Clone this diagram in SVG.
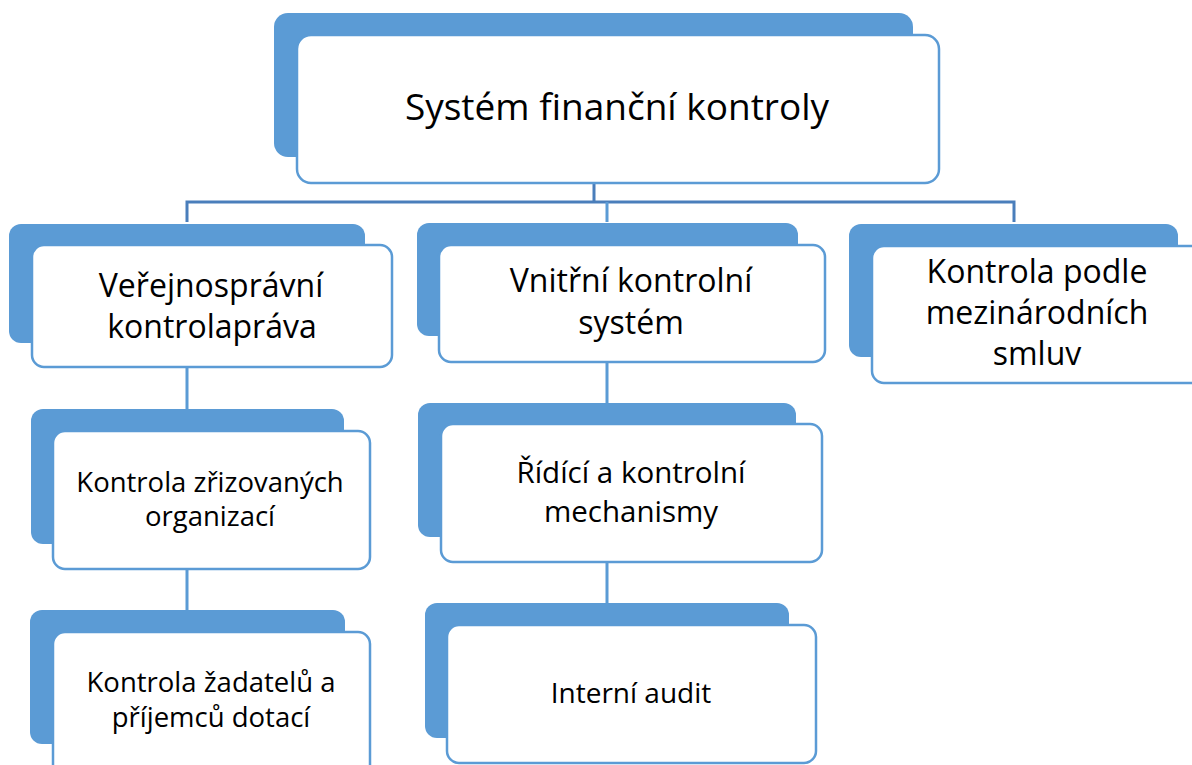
<svg xmlns="http://www.w3.org/2000/svg" width="1192" height="765" viewBox="0 0 1192 765">
<style>
.back{fill:#5B9BD5;}
.front{fill:#FFFFFF;stroke:#5B9BD5;stroke-width:2.5;}
.t{font-family:"Open Sans","Noto Sans","Liberation Sans",sans-serif;fill:#000000;text-anchor:middle;}
.main{stroke:#4A7EBB;stroke-width:3;fill:none;}
.sub{stroke:#5B9BD5;stroke-width:3;fill:none;}
</style>
<rect width="1192" height="765" fill="#FFFFFF"/>
<g id="connectors">
<path class="main" d="M594 183 V202 M187 222 V202 H1014 V222"/>
<path class="sub" d="M607 202 V222"/>
<path class="sub" d="M187 367 V409 M187 569 V610"/>
<path class="sub" d="M607 362 V403 M607 562 V603"/>
</g>
<g id="n_root">
<rect class="back" x="274" y="13" width="639" height="144" rx="14"/>
<rect class="front" x="297" y="35" width="642" height="148" rx="14"/>
<text class="t" x="617" y="120" font-size="37">Systém finanční kontroly</text>
</g>
<g id="n_verejnospravni">
<rect class="back" x="9" y="224" width="356" height="119" rx="12"/>
<rect class="front" x="32" y="245" width="360" height="122" rx="12"/>
<text class="t" font-size="32"><tspan x="211" y="297">Veřejnosprávní</tspan><tspan x="212" y="338">kontrolapráva</tspan></text>
</g>
<g id="n_vnitrni">
<rect class="back" x="417" y="223" width="381" height="113" rx="12"/>
<rect class="front" x="439" y="245" width="386" height="117" rx="12"/>
<text class="t" font-size="32"><tspan x="631" y="292">Vnitřní kontrolní</tspan><tspan x="631" y="334">systém</tspan></text>
</g>
<g id="n_mezinarodni">
<rect class="back" x="849" y="224" width="329" height="133" rx="12"/>
<rect class="front" x="872" y="246" width="340" height="137" rx="12"/>
<text class="t" font-size="32"><tspan x="1037" y="283">Kontrola podle</tspan><tspan x="1037" y="324">mezinárodních</tspan><tspan x="1037" y="365">smluv</tspan></text>
</g>
<g id="n_zrizovanych">
<rect class="back" x="31" y="409" width="313" height="135" rx="12"/>
<rect class="front" x="53" y="431" width="317" height="138" rx="12"/>
<text class="t" font-size="27.5"><tspan x="210" y="492">Kontrola zřizovaných</tspan><tspan x="210" y="526">organizací</tspan></text>
</g>
<g id="n_zadatelu">
<rect class="back" x="30" y="610" width="315" height="134" rx="12"/>
<rect class="front" x="53" y="632" width="317" height="150" rx="12"/>
<text class="t" font-size="27.5"><tspan x="211" y="692">Kontrola žadatelů a</tspan><tspan x="211" y="727">příjemců dotací</tspan></text>
</g>
<g id="n_ridici">
<rect class="back" x="418" y="403" width="378" height="134" rx="12"/>
<rect class="front" x="441" y="424" width="381" height="138" rx="12"/>
<text class="t" font-size="29.5"><tspan x="631" y="483">Řídící a kontrolní</tspan><tspan x="631" y="522">mechanismy</tspan></text>
</g>
<g id="n_audit">
<rect class="back" x="425" y="603" width="364" height="135" rx="12"/>
<rect class="front" x="447" y="625" width="369" height="138" rx="12"/>
<text class="t" x="631" y="703" font-size="28">Interní audit</text>
</g>
</svg>
